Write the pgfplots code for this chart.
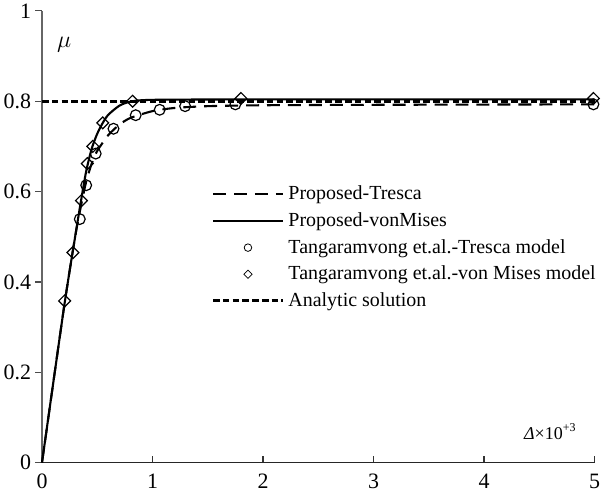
\documentclass[border=0pt]{standalone}
\usepackage{pgfplots}
\pgfplotsset{compat=1.18}
\usepackage{fontspec}
\setmainfont{Liberation Serif}
\pgfplotsset{
  linelegend/.style={legend image code/.code={\draw[##1] (0pt,0pt) -- (35pt,0pt);}},
  marklegend/.style={legend image code/.code={\path[##1, mark options={scale=0.7}] plot coordinates {(17.5pt,0pt)};}},
  diamlegend/.style={legend image code/.code={\path[##1, mark options={scale=0.7, rotate=45}] plot coordinates {(17.5pt,0pt)};}},
}
\begin{document}
\begin{tikzpicture}
\begin{axis}[
  scale only axis, width=277pt, height=226.5pt,
  xmin=0, xmax=5, ymin=0, ymax=1,
  axis x line*=bottom, axis y line*=left,
  x axis line style={black!85, line width=0.6pt},
  y axis line style={black!60, line width=0.6pt},
  xtick={0,1,2,3,4,5}, ytick={0,0.2,0.4,0.6,0.8,1},
  xticklabels={0,1,2,3,4,5},
  yticklabels={0,0.2,0.4,0.6,0.8,1},
  xtick style={black!80, line width=0.6pt},
  ytick style={black!70, line width=0.6pt},
  tick align=outside, major tick length=3.5pt,
  x tick style={yshift=3.5pt},
  ticklabel style={font=\fontsize{11}{13}\selectfont},
  yticklabel style={inner sep=1.8pt},
  xticklabel style={inner sep=2pt},
  legend cell align=left,
  legend style={at={(axis cs:1.53,0.622)}, anchor=north west, draw=none, fill=none,
    font=\fontsize{10}{12}\selectfont, row sep=0.9pt, inner sep=0pt,
    nodes={inner sep=2pt}},
  clip=false,
]
% Proposed-Tresca
\addplot[black, line width=1.05pt, dash pattern=on 6.5pt off 4pt, smooth, tension=0.4, linelegend] coordinates {
(0,0) (0.2,0.345) (0.3,0.5) (0.35,0.565) (0.4,0.622) (0.45,0.662) (0.5,0.69) (0.6,0.725) (0.7,0.748) (0.8,0.763) (1.0,0.778) (1.2,0.785) (1.5,0.789) (2,0.791) (3,0.792) (5,0.793)};
\addlegendentry{Proposed-Tresca}
% Proposed-vonMises
\addplot[black, line width=1.05pt, smooth, tension=0.4, linelegend] coordinates {
(0,0) (0.2,0.345) (0.3,0.5) (0.35,0.575) (0.4,0.645) (0.45,0.695) (0.5,0.728) (0.55,0.752) (0.6,0.77) (0.7,0.79) (0.8,0.799) (1.0,0.803) (2,0.804) (5,0.804)};
\addlegendentry{Proposed-vonMises}
% Tangaramvong Tresca
\addplot[only marks, mark=o, mark size=2.7pt, black, mark options={line width=0.6pt, fill=white}, marklegend] coordinates {
(0.342,0.539) (0.40,0.614) (0.486,0.684) (0.647,0.739) (0.848,0.769) (1.065,0.781) (1.295,0.789) (1.75,0.793) (4.99,0.793)};
\addlegendentry{Tangaramvong et.al.-Tresca model}
% Tangaramvong von Mises
\addplot[only marks, mark=square, mark size=2.1pt, black, mark options={line width=0.6pt, fill=none, rotate=45}, diamlegend] coordinates {
(0.205,0.358) (0.28,0.465) (0.357,0.58) (0.41,0.662) (0.46,0.70) (0.55,0.752) (0.82,0.80) (1.80,0.806) (4.99,0.806)};
\addlegendentry{Tangaramvong et.al.-von Mises model}
% Analytic
\addplot[black, line width=1.6pt, dash pattern=on 3.3pt off 1.6pt, linelegend] coordinates {(0,0.8) (5,0.8)};
\addlegendentry{Analytic solution}
\node[anchor=center, font=\fontsize{12}{14}\selectfont] at (axis cs:0.2,0.925) {$\mu$};
\node[anchor=center, font=\fontsize{9}{11}\selectfont] at (axis cs:4.6,0.068) {\textit{Δ}×10\textsuperscript{+3}};
\end{axis}
\end{tikzpicture}
\end{document}
